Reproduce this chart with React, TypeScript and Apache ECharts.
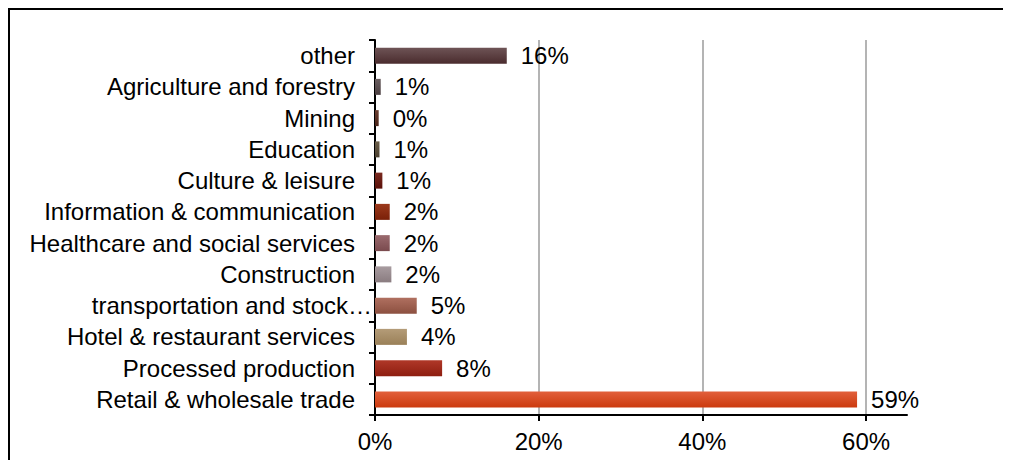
import React, { useEffect, useRef } from "react";
import * as echarts from "echarts";

// bottom to top
const categories = [
  "Retail & wholesale trade",
  "Processed production",
  "Hotel & restaurant services",
  "transportation and stock…",
  "Construction",
  "Healthcare and social services",
  "Information & communication",
  "Culture & leisure",
  "Education",
  "Mining",
  "Agriculture and forestry",
  "other",
];
const values = [58.9, 8.2, 3.9, 5.1, 2.0, 1.8, 1.8, 0.9, 0.55, 0.45, 0.7, 16.1];
const barColors: [string, string][] = [
  ["#e2603c", "#cc3a0e"],
  ["#b03828", "#8e1e10"],
  ["#b49c78", "#9a8058"],
  ["#b07060", "#8c5040"],
  ["#a89ca0", "#8a7c80"],
  ["#9a6a6e", "#7a4a4e"],
  ["#9c3a1c", "#7a2008"],
  ["#7a2a20", "#5a1008"],
  ["#6a5e48", "#4c4030"],
  ["#6a3e30", "#4a2418"],
  ["#6a5e60", "#4a3e40"],
  ["#6e5456", "#4a2c2e"],
];
const xTicks = [0, 20, 40, 60];

const FONT = "'Liberation Sans', Arial, sans-serif";

export default function App() {
  const ref = useRef<HTMLDivElement>(null);
  useEffect(() => {
    const chart = echarts.init(ref.current!, null, { renderer: "svg" });
    chart.setOption({
      animation: false,
      textStyle: { fontFamily: FONT },
      grid: { left: 375, right: 104, top: 40, bottom: 45, containLabel: false },
      xAxis: {
        type: "value",
        min: 0,
        max: 65,
        interval: 20,
        axisLine: { show: true, lineStyle: { color: "#000", width: 2 } },
        axisTick: { show: true, length: 6, customValues: xTicks, lineStyle: { color: "#000", width: 2 } },
        axisLabel: {
          customValues: xTicks,
          formatter: (v: number) => v + "%",
          color: "#000",
          fontSize: 24,
          fontFamily: FONT,
          margin: 14,
        },
        splitLine: {
          show: true,
          showMinLine: false,
          showMaxLine: true,
          lineStyle: { color: "#b4b4b4", width: 2 },
        },
      },
      yAxis: {
        type: "category",
        data: categories.map((c) =>
          c.endsWith("…") ? { value: c, textStyle: { padding: [0, -17, 0, 0] } } : c
        ),
        axisLine: { show: true, lineStyle: { color: "#000", width: 2 } },
        axisTick: { show: true, length: 6, lineStyle: { color: "#000", width: 2 } },
        axisLabel: { color: "#000", fontSize: 24, fontFamily: FONT, margin: 20, interval: 0 },
        splitLine: { show: false },
      },
      series: [
        {
          type: "bar",
          barWidth: 16,
          data: values.map((v, i) => ({
            value: v,
            itemStyle: {
              color: new echarts.graphic.LinearGradient(0, 0, 0, 1, [
                { offset: 0, color: barColors[i][0] },
                { offset: 1, color: barColors[i][1] },
              ]),
            },
          })),
          label: {
            show: true,
            position: "right",
            distance: 14,
            formatter: (p: any) => Math.round(p.value) + "%",
            color: "#000",
            fontSize: 24,
            fontFamily: FONT,
          },
        },
      ],
    });
    return () => chart.dispose();
  }, []);
  return (
    <div
      style={{
        position: "relative",
        width: 1003,
        height: 452,
        boxSizing: "border-box",
        borderTop: "2px solid #000",
        borderLeft: "2px solid #000",
      }}
    >
      <div
        ref={ref}
        style={{ position: "absolute", left: -10, top: -10, width: 1011, height: 460 }}
      />
    </div>
  );
}
